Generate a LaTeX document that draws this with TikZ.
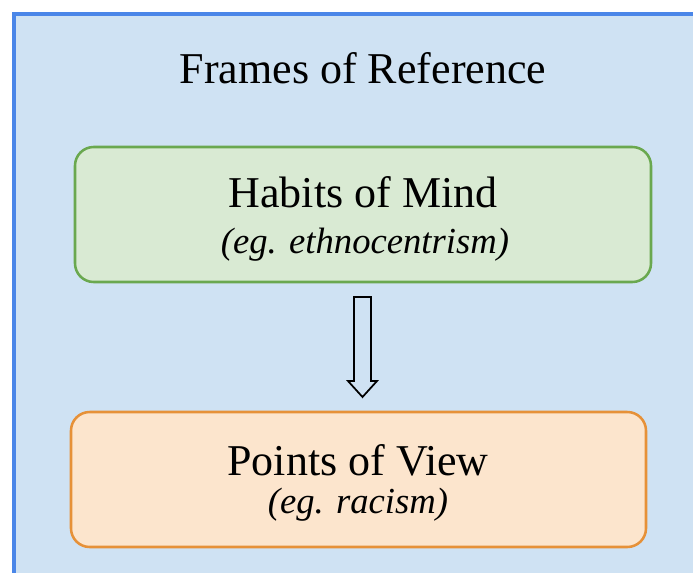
\documentclass[tikz,border=0pt]{standalone}
\usepackage{fontspec}
\setmainfont{LiberationSerif}[Extension=.ttf,UprightFont=*-Regular,ItalicFont=*-Italic,BoldFont=*-Bold,BoldItalicFont=*-BoldItalic]
\definecolor{outerfill}{HTML}{CFE2F3}
\definecolor{outerline}{HTML}{4A86E8}
\definecolor{greenfill}{HTML}{D9EAD3}
\definecolor{greenline}{HTML}{6AA84F}
\definecolor{orangefill}{HTML}{FCE5CD}
\definecolor{orangeline}{HTML}{E69138}
\begin{document}
\begin{tikzpicture}[x=0.75pt,y=-0.75pt,
  mainbox/.style={rounded corners=14pt,line width=1.9pt},
  bigtext/.style={font=\fontsize{33}{38}\selectfont,anchor=base},
  smalltext/.style={font=\fontsize{27.5}{32}\selectfont\itshape,anchor=base}]
\useasboundingbox (0,0) rectangle (693,572);
\begin{scope}
\clip (0,0) rectangle (693,572);
\draw[fill=outerfill,draw=outerline,line width=2.3pt] (14,14) rectangle (720,600);
\end{scope}
\node[bigtext] (title) at (363,83) {Frames of Reference};
\draw[mainbox,fill=greenfill,draw=greenline] (75,147) rectangle (651,282);
\node[bigtext] (habits) at (363,207) {Habits of Mind};
\node[smalltext] (habitsex) at (365,253) {(eg. ethnocentrism)};
\draw[mainbox,fill=orangefill,draw=orangeline] (71,412) rectangle (646,547);
\node[bigtext] (points) at (358,475) {Points of View};
\node[smalltext] (pointsex) at (358,513) {(eg. racism)};
\draw[line width=1.3pt,fill=outerfill,line join=miter]
  (354,297) -- (371,297) -- (371,381) -- (377,381) -- (362.5,397) -- (348,381) -- (354,381) -- cycle;
\end{tikzpicture}
\end{document}
